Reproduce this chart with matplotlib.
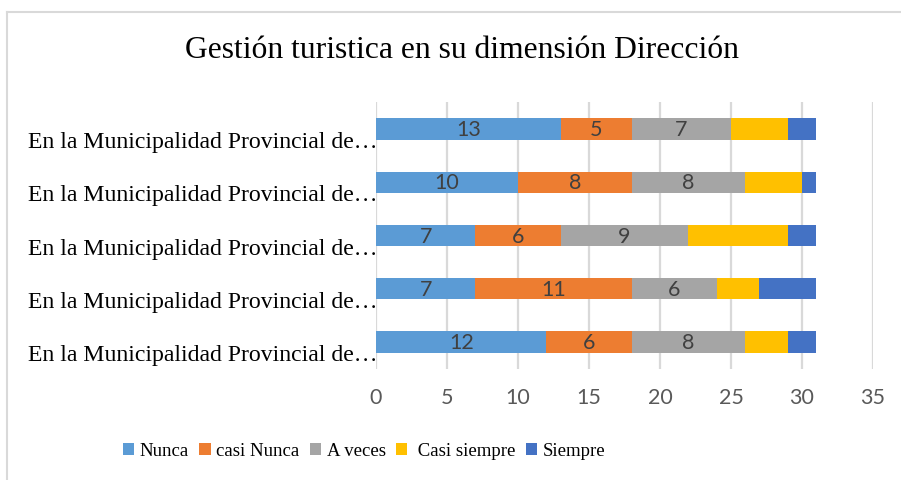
import matplotlib

matplotlib.use("Agg")
import matplotlib.pyplot as plt
from matplotlib.lines import Line2D
from matplotlib.transforms import blended_transform_factory
import numpy as np

# rows listed top to bottom as they appear
CATEGORIES = ["En la Municipalidad Provincial de…"] * 5
SERIES = ["Nunca", "casi Nunca", "A veces", " Casi siempre", "Siempre"]
NUNCA = [13, 10, 7, 7, 12]
CASI_NUNCA = [5, 8, 6, 11, 6]
A_VECES = [7, 8, 9, 6, 8]
CASI_SIEMPRE = [4, 4, 7, 3, 3]
SIEMPRE = [2, 1, 2, 4, 2]
XTICKS = [0, 5, 10, 15, 20, 25, 30, 35]

COLORS = ["#5B9BD5", "#ED7D31", "#A5A5A5", "#FFC000", "#4472C4"]
LABELLED = [True, True, True, False, False]
SERIF = "Liberation Serif"
SANS = "Lato"

fig = plt.figure(figsize=(9.01, 4.81), dpi=100)
ax = fig.add_axes([376 / 901, 0.2316, (873 - 376) / 901, 0.5534])

# light chart-area border (left and top only visible in the crop)
fig.add_artist(Line2D([7 / 901, 7 / 901], [0, 1 - 13 / 481],
                      transform=fig.transFigure, color="#D9D9D9", lw=1.5))
fig.add_artist(Line2D([7 / 901, 1], [1 - 13 / 481, 1 - 13 / 481],
                      transform=fig.transFigure, color="#D9D9D9", lw=1.5))

y = np.arange(len(CATEGORIES))
left = np.zeros(len(CATEGORIES))
for name, vals, col, lab in zip(SERIES, [NUNCA, CASI_NUNCA, A_VECES, CASI_SIEMPRE, SIEMPRE],
                                 COLORS, LABELLED):
    vals = np.array(vals, dtype=float)
    ax.barh(y, vals, left=left, height=0.40, color=col, label=name, zorder=3)
    if lab:
        for yi, l, v in zip(y, left, vals):
            ax.text(l + v / 2, yi, f"{int(v)}", ha="center", va="center",
                    fontsize=15.5, color="#404040", family=SANS, zorder=4)
    left += vals

ax.set_xlim(0, 35)
ax.set_ylim(4.5, -0.5)
ax.set_xticks(XTICKS)
ax.set_xticklabels([str(t) for t in XTICKS], family=SANS, fontsize=15.5, color="#595959")
ax.set_yticks([])
ax.tick_params(axis="x", length=0, pad=13)
ax.grid(axis="x", color="#D9D9D9", lw=1.6, zorder=0)
for s in ax.spines.values():
    s.set_visible(False)

# category labels: baseline sits a little below each bar's centre, like Excel
lab_tr = blended_transform_factory(ax.transAxes, ax.transData)
for yi, cat in zip(y, CATEGORIES):
    ax.text(0.004, yi + 0.34, cat, transform=lab_tr, ha="right", va="baseline",
            family=SERIF, fontsize=17.15, color="black", clip_on=False)

fig.text(462 / 901, 1 - 51 / 481, "Gestión turistica en su dimensión Dirección",
         ha="center", va="center", family=SERIF, fontsize=22.8)

handles, labels = ax.get_legend_handles_labels()
fig.legend(handles, labels, loc="center", bbox_to_anchor=(364 / 901, 1 - 452 / 481),
           ncol=5, frameon=False, prop={"family": SERIF, "size": 13.5},
           handlelength=0.6, handleheight=0.6, handletextpad=0.3,
           columnspacing=0.55)

fig.savefig("out.png", dpi=100)
